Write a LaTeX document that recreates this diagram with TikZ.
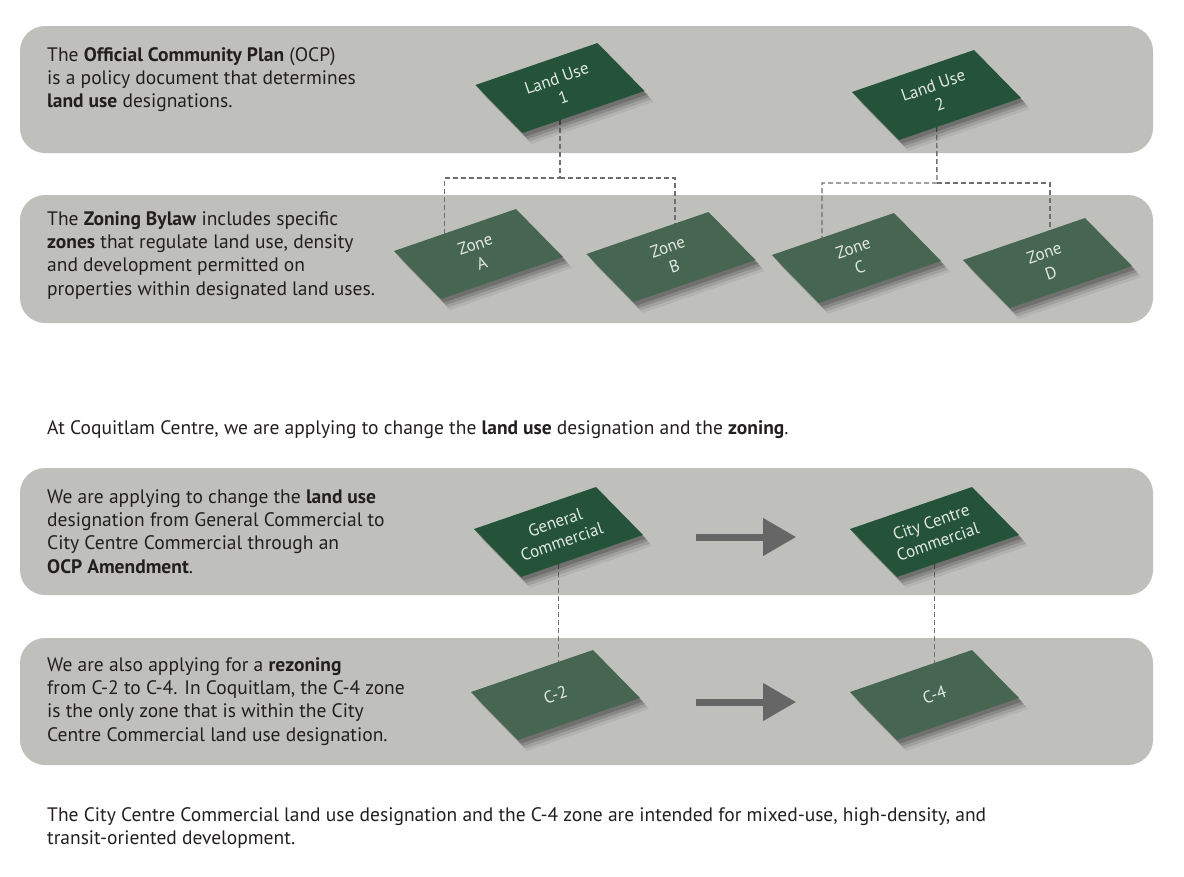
\documentclass[tikz,border=0pt]{standalone}
\usepackage{fontspec}
\setmainfont{PT Sans}
\usetikzlibrary{arrows.meta,shadows,calc}
\definecolor{panelgray}{HTML}{BFC0BC}
\definecolor{usegreen}{HTML}{24533A}
\definecolor{zonegreen}{HTML}{476652}
\definecolor{inkgray}{HTML}{231F20}
\definecolor{linkgray}{HTML}{6F6F6F}
\definecolor{arrowgray}{HTML}{666666}
\definecolor{lotink}{HTML}{E2E8E2}
\pgfdeclarelayer{panel}
\pgfdeclarelayer{link}
\pgfdeclarelayer{plate}
\pgfsetlayers{panel,link,plate,main}
% one tilted plate: name, position, colour, text
\newcommand{\landlot}[4]{%
  \node[lot text] (#1) at (#2) {#4};
  \begin{pgfonlayer}{plate}
    \fill[#3,lot shadow] (#1.center) ++(-84.5,-3) -- ++(122,-42) -- ++(47,48) -- ++(-122,42) -- cycle;
  \end{pgfonlayer}
}
\begin{document}
\begin{tikzpicture}[x=1pt,y=-1pt]
        \tikzstyle{panel}=[fill=panelgray,rounded corners=25pt]
        \tikzstyle{panel text}=[anchor=north west,inner sep=0,align=left,text=inkgray,font=\fontsize{19.5}{23.4}\selectfont]
        \tikzstyle{lot text}=[inner sep=0,align=center,rotate=19,text=lotink,font=\fontsize{17}{20.5}\selectfont]
        \tikzstyle{lot shadow}=[drop shadow={shadow xshift=9pt,shadow yshift=-11pt,opacity=0.06,fill=black},
          drop shadow={shadow xshift=7pt,shadow yshift=-8.5pt,opacity=0.1,fill=black},
          drop shadow={shadow xshift=5pt,shadow yshift=-6pt,opacity=0.14,fill=black},
          drop shadow={shadow xshift=3pt,shadow yshift=-3.5pt,opacity=0.18,fill=black}]
        \tikzstyle{link}=[draw=linkgray,line width=1.4pt,dash pattern=on 5pt off 3pt]
        \tikzstyle{big arrow}=[draw=arrowgray,line width=7pt,-{Triangle[length=33pt,width=36pt]}]

        \useasboundingbox (0,0) rectangle (1184,876);

        % grey bands
        \begin{pgfonlayer}{panel}
        \fill[panel] (20,26) rectangle (1153,153);
        \fill[panel] (20,195) rectangle (1153,323);
        \fill[panel] (20,468) rectangle (1153,595);
        \fill[panel] (20,638) rectangle (1153,765);
        \end{pgfonlayer}

        % texts
        \node(ocp)[panel text] at (47,47) {The \textbf{Official Community Plan} (OCP)\\is a policy document that determines\\\textbf{land use} designations.};
        \node(bylaw)[panel text] at (47,211) {The \textbf{Zoning Bylaw} includes specific\\\textbf{zones} that regulate land use, density\\and development permitted on\\properties within designated land uses.};
        \node(intro)[panel text] at (47,420) {At Coquitlam Centre, we are applying to change the \textbf{land use} designation and the \textbf{zoning}.};
        \node(amend)[panel text] at (47,489) {We are applying to change the \textbf{land use}\\designation from General Commercial to\\City Centre Commercial through an\\\textbf{OCP Amendment}.};
        \node(rezone)[panel text] at (47,657) {We are also applying for a \textbf{rezoning}\\from C-2 to C-4. In Coquitlam, the C-4 zone\\is the only zone that is within the City\\Centre Commercial land use designation.};
        \node(outro)[panel text] at (47,807) {The City Centre Commercial land use designation and the C-4 zone are intended for mixed-use, high-density, and\\transit-oriented development.};

        % plates
        \landlot{lu1}{560,88}{usegreen}{Land Use\\1}
        \landlot{lu2}{936.5,95}{usegreen}{Land Use\\2}
        \landlot{za}{478.5,254}{zonegreen}{Zone\\A}
        \landlot{zb}{671,257}{zonegreen}{Zone\\B}
        \landlot{zc}{856.5,258}{zonegreen}{Zone\\C}
        \landlot{zd}{1047.5,263}{zonegreen}{Zone\\D}
        \landlot{gc}{558.5,532}{usegreen}{General\\Commercial}
        \landlot{ccc}{934.5,532}{usegreen}{City Centre\\Commercial}
        \landlot{c2}{555.5,695}{zonegreen}{C-2}
        \landlot{c4}{934.5,695}{zonegreen}{C-4}

        % dashed links
        \coordinate(j1) at (560,178);
        \coordinate(j2) at (937,183);
        \begin{pgfonlayer}{link}
        \draw[link] (lu1.center) -- (j1) -| ([xshift=-34pt]za.center);
        \draw[link] (j1) -| ([xshift=4pt]zb.center);
        \draw[link] (lu2.center) -- (j2) -| ([xshift=-34.5pt]zc.center);
        \draw[link] (j2) -| ([xshift=2.5pt]zd.center);
        \draw[link] (gc.center) -- (gc.center |- c2.center);
        \draw[link] (ccc.center) -- (c4.center);
        \end{pgfonlayer}

        % arrows
        \draw[big arrow] ([yshift=-5pt]$(gc)!0.366!(ccc)$) -- ([yshift=-5pt]$(gc)!0.632!(ccc)$);
        \draw[big arrow] ([yshift=-7pt]$(c2)!0.371!(c4)$) -- ([yshift=-7pt]$(c2)!0.635!(c4)$);
    \end{tikzpicture}
\end{document}
